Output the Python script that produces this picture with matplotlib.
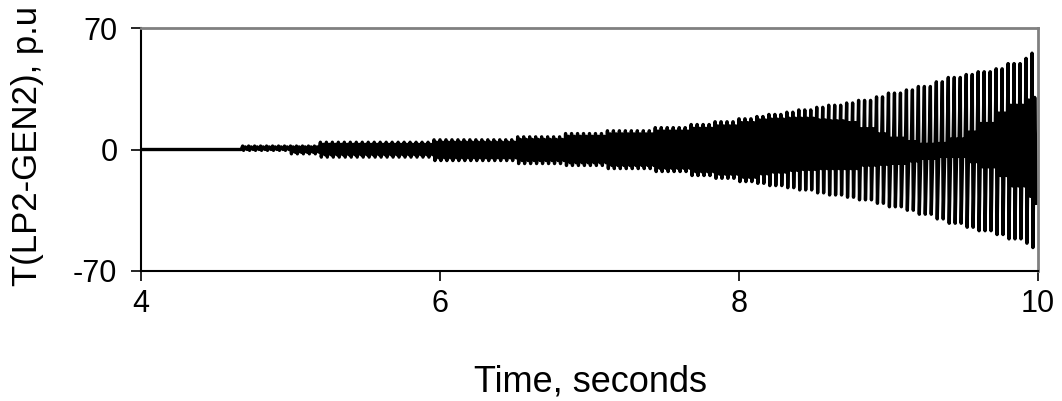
import numpy as np
import matplotlib
matplotlib.use("Agg")
import matplotlib.pyplot as plt

# envelope of the oscillation (p.u., held until the next time)
env_t = [4.00, 4.66, 4.98, 5.18, 5.95, 6.52, 6.84, 7.12, 7.41, 7.65, 7.81, 8.00,
         8.10, 8.20, 8.30, 8.40, 8.50, 8.60, 8.70, 8.80, 8.90, 9.00, 9.10, 9.20,
         9.30, 9.40, 9.50, 9.60, 9.70, 9.80, 9.90, 9.95]
peak_hi = [0.0, 2.0, 2.0, 4.2, 5.6, 7.3, 9.2, 10.8, 12.6, 14.4, 16.0, 17.7,
           19.0, 20.2, 21.5, 22.8, 24.3, 25.5, 26.8, 28.3, 30.3, 32.5, 34.3, 36.3,
           39.0, 41.5, 43.2, 44.8, 46.5, 49.5, 52.5, 55.5]
peak_lo = [0.0, -0.5, -2.5, -4.4, -6.4, -8.1, -9.2, -11.0, -12.7, -15.0, -16.6, -18.5,
           -19.5, -20.8, -22.0, -23.3, -25.0, -26.2, -27.5, -29.0, -31.0, -33.0, -35.0, -37.3,
           -40.0, -42.5, -44.8, -46.8, -49.0, -51.5, -54.0, -56.5]
# inner (dark core) band
core_hi = [0.0, 1.5, 1.5, 3.0, 4.2, 5.8, 7.6, 9.0, 10.6, 12.2, 13.6, 15.5,
           17.0, 17.5, 18.0, 18.0, 17.0, 16.5, 15.5, 12.0, 9.0, 6.5, 4.5, 3.0,
           3.5, 6.0, 10.0, 15.0, 21.0, 25.5, 28.5, 30.0]
core_lo = [0.0, 0.0, -1.5, -3.0, -4.8, -6.4, -7.6, -9.2, -10.8, -12.8, -14.2, -16.0,
           -14.0, -13.0, -12.0, -11.5, -11.0, -11.0, -11.0, -9.0, -8.5, -8.0, -6.5, -5.0,
           -4.0, -4.0, -7.0, -10.0, -15.0, -21.0, -27.0, -31.0]

PERIOD = 0.04          # one spike every ~6 px -> ~25 Hz
PHASES = [0.0, 0.15, 0.45, 0.75]

t_list, v_list = [], []
for tc in np.arange(4.0, 10.0, PERIOD):
    i = np.searchsorted(env_t, tc + 1e-9, side="right") - 1
    vals = [peak_hi[i], peak_lo[i], core_hi[i], core_lo[i]]
    for ph, val in zip(PHASES, vals):
        t_list.append(tc + ph * PERIOD)
        v_list.append(val)
t = np.array(t_list)
v = np.array(v_list)
keep = t <= 10.0
t, v = t[keep], v[keep]

plt.rcParams["font.family"] = ["Liberation Sans", "DejaVu Sans"]
plt.rcParams["axes.unicode_minus"] = False

fig = plt.figure(figsize=(10.62, 4.01), dpi=100)
ax = fig.add_axes([141 / 1062, 1 - 271 / 401, (1038 - 141) / 1062, (271 - 28) / 401])
ax.plot(t, v, color="black", linewidth=2.4, solid_joinstyle="round")

ax.set_xlim(4, 10)
ax.set_ylim(-70, 70)
ax.set_xticks([4, 6, 8, 10])
ax.set_yticks([-70, 0, 70])
ax.tick_params(direction="out", length=7, width=1.2, labelsize=22, color="black")
ax.tick_params(axis="y", pad=10)
ax.tick_params(axis="x", pad=6)

for side in ("top", "right"):
    ax.spines[side].set_color("#808080")
    ax.spines[side].set_linewidth(2)
for side in ("left", "bottom"):
    ax.spines[side].set_color("black")
    ax.spines[side].set_linewidth(1.5)

fig.text(590 / 1062, 1 - 382 / 401, "Time, seconds", fontsize=26,
         ha="center", va="center")
fig.text(28 / 1062, 1 - 146 / 401, "T(LP2-GEN2), p.u", fontsize=25,
         rotation=90, ha="center", va="center")

fig.savefig("out.png", dpi=100)
